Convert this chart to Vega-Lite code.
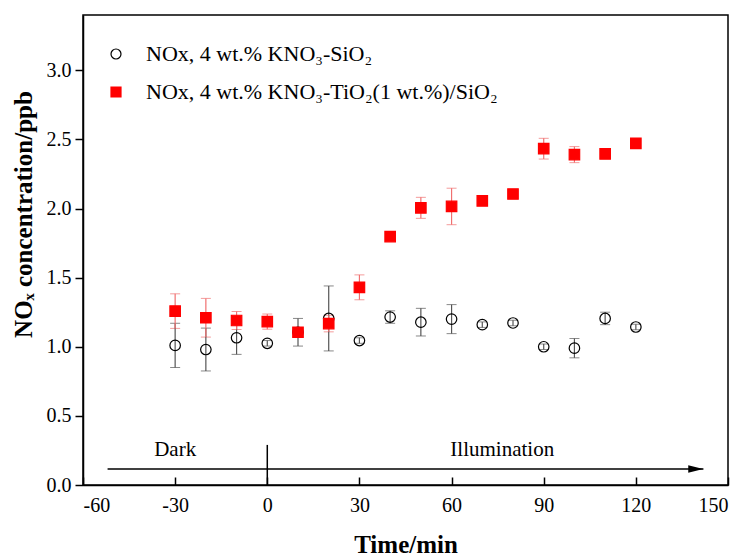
{
  "$schema": "https://vega.github.io/schema/vega-lite/v6.json",
  "width": 645,
  "height": 470,
  "autosize": {"type": "none"},
  "padding": {"left": 83, "top": 15, "right": 12, "bottom": 72},
  "background": "white",
  "config": {
    "view": {"stroke": "black", "strokeWidth": 1.5},
    "font": "Liberation Serif",
    "axis": {
      "grid": false,
      "domainColor": "black",
      "domainWidth": 1.5,
      "tickColor": "black",
      "tickWidth": 1.5,
      "labelColor": "black",
      "labelFont": "Liberation Serif",
      "labelFontSize": 20,
      "titleFont": "Liberation Serif",
      "titleFontSize": 25,
      "titleFontWeight": "bold",
      "titleColor": "black"
    },
    "legend": {
      "padding": 0,
      "rowPadding": 16,
      "labelOffset": 19,
      "labelFont": "Liberation Serif",
      "labelFontSize": 22,
      "labelColor": "black",
      "labelLimit": 600,
      "symbolStrokeWidth": 1.2,
      "symbolSize": 100
    }
  },
  "datasets": {
    "pts": [
      {"time": -30, "nox": 1.01, "err": 0.16, "grp": "A", "series": "NOx, 4 wt.% KNO₃-SiO₂"},
      {"time": -20, "nox": 0.98, "err": 0.155, "grp": "A", "series": "NOx, 4 wt.% KNO₃-SiO₂"},
      {"time": -10, "nox": 1.065, "err": 0.12, "grp": "A", "series": "NOx, 4 wt.% KNO₃-SiO₂"},
      {"time": 0, "nox": 1.025, "err": 0.02, "grp": "A", "series": "NOx, 4 wt.% KNO₃-SiO₂"},
      {"time": 10, "nox": 1.105, "err": 0.1, "grp": "A", "series": "NOx, 4 wt.% KNO₃-SiO₂"},
      {"time": 20, "nox": 1.205, "err": 0.235, "grp": "A", "series": "NOx, 4 wt.% KNO₃-SiO₂"},
      {"time": 30, "nox": 1.045, "err": 0.02, "grp": "A", "series": "NOx, 4 wt.% KNO₃-SiO₂"},
      {"time": 40, "nox": 1.215, "err": 0.045, "grp": "A", "series": "NOx, 4 wt.% KNO₃-SiO₂"},
      {"time": 50, "nox": 1.178, "err": 0.1, "grp": "A", "series": "NOx, 4 wt.% KNO₃-SiO₂"},
      {"time": 60, "nox": 1.2, "err": 0.105, "grp": "A", "series": "NOx, 4 wt.% KNO₃-SiO₂"},
      {"time": 70, "nox": 1.16, "err": 0.02, "grp": "A", "series": "NOx, 4 wt.% KNO₃-SiO₂"},
      {"time": 80, "nox": 1.172, "err": 0.02, "grp": "A", "series": "NOx, 4 wt.% KNO₃-SiO₂"},
      {"time": 90, "nox": 1.0, "err": 0.02, "grp": "A", "series": "NOx, 4 wt.% KNO₃-SiO₂"},
      {"time": 100, "nox": 0.99, "err": 0.07, "grp": "A", "series": "NOx, 4 wt.% KNO₃-SiO₂"},
      {"time": 110, "nox": 1.205, "err": 0.045, "grp": "A", "series": "NOx, 4 wt.% KNO₃-SiO₂"},
      {"time": 120, "nox": 1.143, "err": 0.02, "grp": "A", "series": "NOx, 4 wt.% KNO₃-SiO₂"},
      {"time": -30, "nox": 1.258, "err": 0.125, "grp": "B", "series": "NOx, 4 wt.% KNO₃-TiO₂(1 wt.%)/SiO₂"},
      {"time": -20, "nox": 1.21, "err": 0.14, "grp": "B", "series": "NOx, 4 wt.% KNO₃-TiO₂(1 wt.%)/SiO₂"},
      {"time": -10, "nox": 1.19, "err": 0.065, "grp": "B", "series": "NOx, 4 wt.% KNO₃-TiO₂(1 wt.%)/SiO₂"},
      {"time": 0, "nox": 1.182, "err": 0.055, "grp": "B", "series": "NOx, 4 wt.% KNO₃-TiO₂(1 wt.%)/SiO₂"},
      {"time": 10, "nox": 1.105, "err": 0.02, "grp": "B", "series": "NOx, 4 wt.% KNO₃-TiO₂(1 wt.%)/SiO₂"},
      {"time": 20, "nox": 1.168, "err": 0.06, "grp": "B", "series": "NOx, 4 wt.% KNO₃-TiO₂(1 wt.%)/SiO₂"},
      {"time": 30, "nox": 1.43, "err": 0.09, "grp": "B", "series": "NOx, 4 wt.% KNO₃-TiO₂(1 wt.%)/SiO₂"},
      {"time": 40, "nox": 1.797, "err": 0.02, "grp": "B", "series": "NOx, 4 wt.% KNO₃-TiO₂(1 wt.%)/SiO₂"},
      {"time": 50, "nox": 2.005, "err": 0.076, "grp": "B", "series": "NOx, 4 wt.% KNO₃-TiO₂(1 wt.%)/SiO₂"},
      {"time": 60, "nox": 2.015, "err": 0.132, "grp": "B", "series": "NOx, 4 wt.% KNO₃-TiO₂(1 wt.%)/SiO₂"},
      {"time": 70, "nox": 2.055, "err": 0.02, "grp": "B", "series": "NOx, 4 wt.% KNO₃-TiO₂(1 wt.%)/SiO₂"},
      {"time": 80, "nox": 2.105, "err": 0.02, "grp": "B", "series": "NOx, 4 wt.% KNO₃-TiO₂(1 wt.%)/SiO₂"},
      {"time": 90, "nox": 2.433, "err": 0.075, "grp": "B", "series": "NOx, 4 wt.% KNO₃-TiO₂(1 wt.%)/SiO₂"},
      {"time": 100, "nox": 2.39, "err": 0.058, "grp": "B", "series": "NOx, 4 wt.% KNO₃-TiO₂(1 wt.%)/SiO₂"},
      {"time": 110, "nox": 2.395, "err": 0.02, "grp": "B", "series": "NOx, 4 wt.% KNO₃-TiO₂(1 wt.%)/SiO₂"},
      {"time": 120, "nox": 2.472, "err": 0.02, "grp": "B", "series": "NOx, 4 wt.% KNO₃-TiO₂(1 wt.%)/SiO₂"}
    ],
    "arrow": [{"x": -52, "x2": 142, "y": 0.116}],
    "head": [{"x": 139.5, "y": 0.116}],
    "divider": [{"x": 0, "y": 0, "y2": 0.29}],
    "labels": [
      {"x": -30, "y": 0.256, "text": "Dark"},
      {"x": 76.5, "y": 0.256, "text": "Illumination"}
    ]
  },
  "layer": [
    {
      "data": {"name": "pts"},
      "mark": {"type": "errorbar", "ticks": {"size": 10, "strokeWidth": 1.2}, "rule": {"strokeWidth": 1.2}},
      "encoding": {
        "x": {
          "field": "time", "type": "quantitative",
          "scale": {"domain": [-60, 150], "nice": false, "zero": false},
          "axis": {"values": [-60, -30, 0, 30, 60, 90, 120, 150], "labelExpr": "'' + datum.value", "tickSize": -8, "labelPadding": 18, "title": "Time/min", "titlePadding": 17}
        },
        "y": {
          "field": "nox", "type": "quantitative",
          "scale": {"domain": [0, 3.4], "nice": false},
          "axis": {"values": [0, 0.5, 1, 1.5, 2, 2.5, 3], "format": ".1f", "tickSize": 8, "labelPadding": 4, "title": "NOₓ concentration/ppb", "titlePadding": 10, "titleY": 199}
        },
        "yError": {"field": "err"},
        "color": {
          "field": "grp", "type": "nominal",
          "scale": {"domain": ["A", "B"], "range": ["#555555", "#f07070"]},
          "legend": null
        }
      }
    },
    {
      "data": {"name": "pts"},
      "mark": {"type": "point", "opacity": 1, "strokeWidth": 1.2, "size": 110},
      "encoding": {
        "x": {"field": "time", "type": "quantitative"},
        "y": {"field": "nox", "type": "quantitative"},
        "shape": {
          "field": "series", "type": "nominal",
          "scale": {"domain": ["NOx, 4 wt.% KNO₃-SiO₂", "NOx, 4 wt.% KNO₃-TiO₂(1 wt.%)/SiO₂"], "range": ["circle", "square"]},
          "legend": {"title": null, "orient": "none", "legendX": 22, "legendY": 28}
        },
        "fill": {
          "field": "series", "type": "nominal",
          "scale": {"domain": ["NOx, 4 wt.% KNO₃-SiO₂", "NOx, 4 wt.% KNO₃-TiO₂(1 wt.%)/SiO₂"], "range": ["transparent", "#ff0000"]},
          "legend": {"title": null, "orient": "none", "legendX": 22, "legendY": 28}
        },
        "stroke": {
          "field": "series", "type": "nominal",
          "scale": {"domain": ["NOx, 4 wt.% KNO₃-SiO₂", "NOx, 4 wt.% KNO₃-TiO₂(1 wt.%)/SiO₂"], "range": ["#000000", "#ff0000"]},
          "legend": {"title": null, "orient": "none", "legendX": 22, "legendY": 28}
        }
      }
    },
    {
      "data": {"name": "arrow"},
      "mark": {"type": "rule", "color": "black", "strokeWidth": 1.5},
      "encoding": {
        "x": {"field": "x", "type": "quantitative"},
        "x2": {"field": "x2"},
        "y": {"field": "y", "type": "quantitative"}
      }
    },
    {
      "data": {"name": "head"},
      "mark": {"type": "point", "shape": "M-1,-0.5L1,0L-1,0.5Z", "filled": true, "color": "black", "opacity": 1, "size": 225},
      "encoding": {
        "x": {"field": "x", "type": "quantitative"},
        "y": {"field": "y", "type": "quantitative"}
      }
    },
    {
      "data": {"name": "divider"},
      "mark": {"type": "rule", "color": "black", "strokeWidth": 1.5},
      "encoding": {
        "x": {"field": "x", "type": "quantitative"},
        "y": {"field": "y", "type": "quantitative"},
        "y2": {"field": "y2"}
      }
    },
    {
      "data": {"name": "labels"},
      "mark": {"type": "text", "font": "Liberation Serif", "fontSize": 21, "color": "black", "align": "center", "baseline": "middle"},
      "encoding": {
        "x": {"field": "x", "type": "quantitative"},
        "y": {"field": "y", "type": "quantitative"},
        "text": {"field": "text"}
      }
    }
  ]
}
